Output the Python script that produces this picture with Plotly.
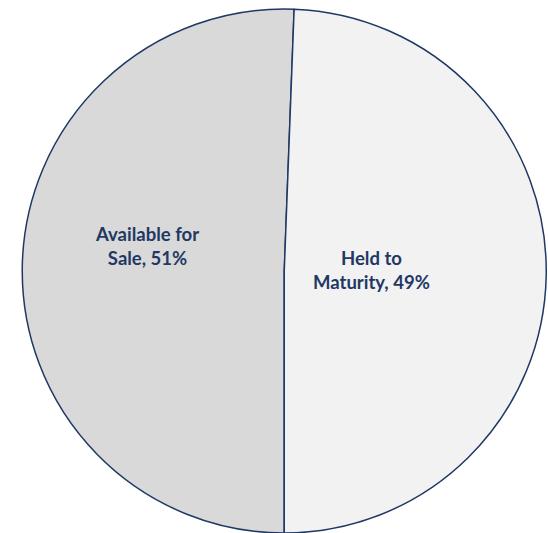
import plotly.graph_objects as go

categories = ["Available for Sale", "Held to Maturity"]
values = [50.6, 49.4]
label_text = ["Available for<br>Sale, 51%", "Held to<br>Maturity, 49%"]
colors = ["#D9D9D9", "#F2F2F2"]
# label anchor positions (pixel coords in the 548x533 canvas)
label_px = [(147, 246), (371, 270)]

W, H = 548, 533

fig = go.Figure(go.Pie(
    labels=categories,
    values=values,
    textinfo="none",
    sort=False,
    direction="clockwise",
    rotation=180,
    marker=dict(colors=colors, line=dict(color="#1F3864", width=1.5)),
    domain=dict(x=[22 / W, 546.5 / W], y=[0, 1 - 9 / H]),
    showlegend=False,
    hoverinfo="label+percent",
))

for txt, (px, py) in zip(label_text, label_px):
    fig.add_annotation(
        text=txt, x=px / W, y=1 - py / H, xref="paper", yref="paper",
        xanchor="center", yanchor="middle", showarrow=False, align="center",
        font=dict(family="Lato", size=18.5, color="#1F3864", weight="bold"),
    )

fig.update_layout(
    width=W, height=H,
    margin=dict(l=0, r=0, t=0, b=0),
    paper_bgcolor="white",
    plot_bgcolor="white",
)

fig.write_html("out.html")
